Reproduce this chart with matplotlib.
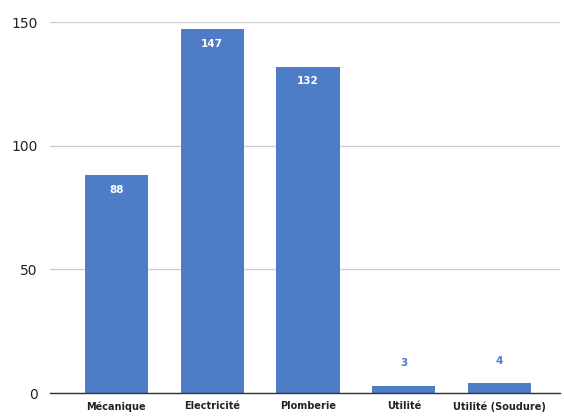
import matplotlib
matplotlib.use("Agg")
import matplotlib.pyplot as plt

categories = ["Mécanique", "Electricité", "Plomberie", "Utilité", "Utilité (Soudure)"]
values = [88, 147, 132, 3, 4]
yticks = [0, 50, 100, 150]

bar_color = "#4e7cc6"

fig = plt.figure(figsize=(5.64, 4.16), dpi=100)
ax = fig.add_axes([0.089, 0.055, 0.904, 0.892])

x = range(len(categories))
bars = ax.bar(x, values, width=0.66, color=bar_color, zorder=3)

for xi, v in zip(x, values):
    if v > 20:
        ax.text(xi, v - 4, str(v), ha="center", va="top", color="white",
                fontsize=7.5, fontweight="bold", zorder=4)
    else:
        ax.text(xi, v + 7, str(v), ha="center", va="bottom", color=bar_color,
                fontsize=7.5, fontweight="bold", zorder=4)

ax.set_xlim(-0.69, 4.63)
ax.set_ylim(0, 150)
ax.set_yticks(yticks)
ax.set_yticklabels([str(t) for t in yticks], fontsize=10, color="#222222")
ax.set_xticks(list(x))
ax.set_xticklabels(categories, fontsize=7, fontweight="bold", color="#222222")
ax.tick_params(axis="both", length=0)
ax.tick_params(axis="y", pad=9)
ax.tick_params(axis="x", pad=6)

ax.grid(axis="y", color="#cccccc", linewidth=0.9, zorder=0)
ax.set_axisbelow(True)
for s in ["top", "right", "left"]:
    ax.spines[s].set_visible(False)
ax.spines["bottom"].set_color("#333333")
ax.spines["bottom"].set_linewidth(1.0)
ax.spines["bottom"].set_zorder(5)

fig.savefig("out.png", dpi=100)
